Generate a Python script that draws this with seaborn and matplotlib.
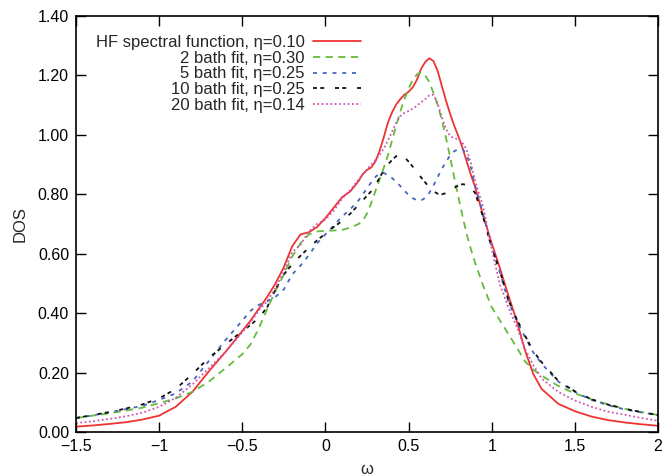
import numpy as np
import pandas as pd
import matplotlib
matplotlib.use("Agg")
import matplotlib.pyplot as plt
import seaborn as sns

# frequency grid (omega) shared by all curves, finer around the peak
omega = [-1.5, -1.4, -1.3, -1.2, -1.1, -1.0, -0.9, -0.8, -0.7, -0.6,
         -0.5, -0.45, -0.4, -0.35, -0.3, -0.25, -0.2, -0.15, -0.1, -0.05,
         0.0, 0.05, 0.1, 0.15,
         0.2, 0.225, 0.25, 0.275, 0.3, 0.325, 0.35, 0.375, 0.4, 0.425,
         0.45, 0.475, 0.5, 0.525, 0.55, 0.575, 0.6, 0.625, 0.65, 0.675,
         0.7, 0.725, 0.75, 0.775, 0.8, 0.825, 0.85, 0.875, 0.9,
         0.95, 1.0, 1.05, 1.1, 1.15, 1.2, 1.25, 1.3, 1.4, 1.5, 1.6,
         1.7, 1.8, 1.9, 2.0]

dos_hf = [0.018, 0.022, 0.027, 0.033, 0.042, 0.055, 0.085, 0.135, 0.205, 0.27,
          0.34, 0.375, 0.415, 0.455, 0.5, 0.555, 0.625, 0.665, 0.672, 0.69,
          0.72, 0.755, 0.79, 0.81,
          0.845, 0.868, 0.882, 0.89, 0.91, 0.945, 0.99, 1.04, 1.075, 1.102,
          1.12, 1.135, 1.145, 1.16, 1.185, 1.222, 1.245, 1.258, 1.248, 1.215,
          1.165, 1.115, 1.07, 1.03, 0.995, 0.955, 0.91, 0.865, 0.825,
          0.725, 0.635, 0.55, 0.46, 0.375, 0.275, 0.195, 0.145, 0.095, 0.07, 0.052,
          0.04, 0.032, 0.026, 0.021]

dos_2bath = [0.047, 0.055, 0.063, 0.072, 0.082, 0.097, 0.113, 0.135, 0.17, 0.215,
             0.262, 0.295, 0.35, 0.415, 0.475, 0.53, 0.59, 0.635, 0.665, 0.675,
             0.677, 0.678, 0.68, 0.688,
             0.7, 0.712, 0.735, 0.77, 0.81, 0.848, 0.888, 0.93, 0.98, 1.03,
             1.078, 1.12, 1.155, 1.185, 1.203, 1.21, 1.2, 1.178, 1.14, 1.1,
             1.05, 0.99, 0.925, 0.855, 0.79, 0.725, 0.665, 0.615, 0.57,
             0.49, 0.42, 0.375, 0.33, 0.285, 0.238, 0.21, 0.19, 0.155, 0.13, 0.11,
             0.093, 0.078, 0.067, 0.057]

dos_5bath = [0.047, 0.056, 0.066, 0.077, 0.088, 0.108, 0.13, 0.17, 0.24, 0.31,
             0.375, 0.408, 0.428, 0.44, 0.455, 0.48, 0.53, 0.56, 0.595, 0.635,
             0.665, 0.695, 0.725, 0.75,
             0.78, 0.8, 0.82, 0.84, 0.858, 0.87, 0.872, 0.865, 0.855, 0.842,
             0.828, 0.812, 0.798, 0.787, 0.78, 0.779, 0.788, 0.805, 0.83, 0.858,
             0.885, 0.91, 0.93, 0.945, 0.952, 0.952, 0.932, 0.89, 0.83,
             0.73, 0.625, 0.535, 0.44, 0.375, 0.32, 0.268, 0.23, 0.17, 0.135, 0.108,
             0.09, 0.076, 0.066, 0.057]

dos_10bath = [0.047, 0.057, 0.067, 0.079, 0.093, 0.113, 0.145, 0.195, 0.25, 0.295,
              0.34, 0.36, 0.385, 0.42, 0.48, 0.53, 0.565, 0.593, 0.62, 0.645,
              0.668, 0.69, 0.71, 0.735,
              0.765, 0.78, 0.795, 0.81, 0.83, 0.855, 0.88, 0.9, 0.915, 0.928,
              0.934, 0.925, 0.91, 0.893, 0.875, 0.857, 0.84, 0.823, 0.81, 0.802,
              0.8, 0.804, 0.812, 0.822, 0.83, 0.834, 0.832, 0.82, 0.805,
              0.72, 0.62, 0.54, 0.445, 0.38, 0.325, 0.272, 0.235, 0.172, 0.137, 0.11,
              0.092, 0.078, 0.067, 0.057]

dos_20bath = [0.03, 0.036, 0.044, 0.053, 0.065, 0.085, 0.115, 0.16, 0.215, 0.27,
              0.335, 0.37, 0.41, 0.44, 0.485, 0.54, 0.605, 0.63, 0.675, 0.7,
              0.715, 0.745, 0.785, 0.815,
              0.85, 0.868, 0.884, 0.9, 0.915, 0.932, 0.953, 0.98, 1.01, 1.04,
              1.063, 1.074, 1.08, 1.088, 1.098, 1.11, 1.12, 1.133, 1.135, 1.105,
              1.06, 1.02, 0.996, 0.988, 0.986, 0.972, 0.95, 0.905, 0.845,
              0.755, 0.615, 0.495, 0.42, 0.355, 0.28, 0.225, 0.18, 0.135, 0.106, 0.085,
              0.068, 0.058, 0.047, 0.038]

labels = ["HF spectral function, η=0.10",
          "2 bath fit, η=0.30",
          "5 bath fit, η=0.25",
          "10 bath fit, η=0.25",
          "20 bath fit, η=0.14"]

series = [dos_hf, dos_2bath, dos_5bath, dos_10bath, dos_20bath]
colors = ["#ee3333", "#66bb3a", "#4766be", "#111111", "#cc55b4"]
styles = ["-", (0, (4, 3)), (0, (2.2, 3.2)), (0, (2.2, 1.8, 2.2, 6)), (0, (1, 1.4))]

sns.set_theme(style="ticks")
plt.rcParams["font.family"] = ["Liberation Sans", "DejaVu Sans"]

fig = plt.figure(figsize=(6.62, 4.76), dpi=100)
ax = fig.add_axes([76 / 662, 1 - 432 / 476, 582 / 662, 416 / 476])

for vals, lab, col, ls in zip(series, labels, colors, styles):
    df = pd.DataFrame({"omega": omega, "dos": vals})
    sns.lineplot(data=df, x="omega", y="dos", ax=ax, color=col,
                 linestyle=ls, linewidth=1.3, label=lab)

ax.set_xlim(-1.5, 2.0)
ax.set_ylim(0.0, 1.4)
ax.set_xticks([-1.5, -1.0, -0.5, 0.0, 0.5, 1.0, 1.5, 2.0])
ax.set_xticklabels(["−1.5", "−1", "−0.5", "0", "0.5", "1", "1.5", "2"])
yt = np.arange(0, 1.41, 0.2)
ax.set_yticks(yt)
ax.set_yticklabels([f"{v:.2f}" for v in yt])
ax.tick_params(direction="in", length=7, width=1, top=True, right=True,
               labelsize=11.5, pad=5, colors="black")
for sp in ax.spines.values():
    sp.set_visible(True)
    sp.set_linewidth(1.2)
    sp.set_color("black")

ax.set_ylabel("DOS", fontsize=12, labelpad=7)
ax.set_xlabel("ω", fontsize=12, labelpad=6)

leg = ax.legend(loc="upper right", bbox_to_anchor=(0.49, 0.955),
                frameon=False, markerfirst=False, fontsize=12,
                handlelength=2.9, handletextpad=0.5, labelspacing=0.05,
                borderpad=0, borderaxespad=0)

fig.savefig("out.png", dpi=100)
